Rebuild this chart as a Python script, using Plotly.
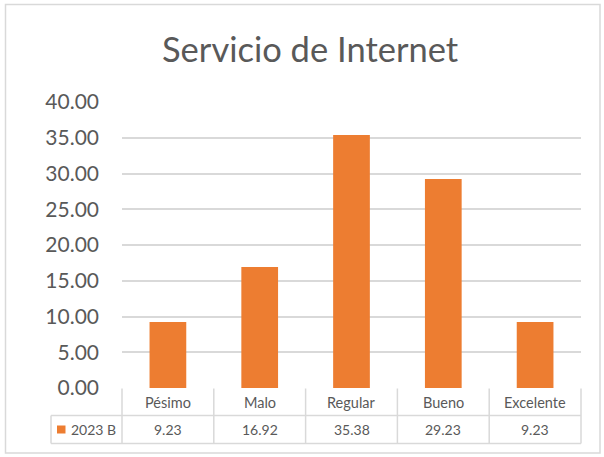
import plotly.graph_objects as go

categories = ["Pésimo", "Malo", "Regular", "Bueno", "Excelente"]
values = [9.23, 16.92, 35.38, 29.23, 9.23]
series_name = "2023 B"
title_text = "Servicio de Internet"
y_ticks = [0, 5, 10, 15, 20, 25, 30, 35, 40]

W, H = 604, 457
L, R, T, B = 122, 581, 102, 388
FONT = "Lato"
TXT = "#595959"
LINE = "#d9d9d9"
BAR = "#ED7D31"

def px(x):
    return (x - L) / (R - L)

def py(y):
    return (B - y) / (B - T)

fig = go.Figure()
fig.add_trace(go.Bar(x=categories, y=values, marker_color=BAR, name=series_name,
                     marker_line_width=0, hoverinfo="skip"))

shapes = []
def hline(x0, x1, y):
    shapes.append(dict(type="line", xref="paper", yref="paper", x0=px(x0), x1=px(x1),
                       y0=py(y), y1=py(y), line=dict(color=LINE, width=1.5)))
def vline(x, y0, y1):
    shapes.append(dict(type="line", xref="paper", yref="paper", x0=px(x), x1=px(x),
                       y0=py(y0), y1=py(y1), line=dict(color=LINE, width=1.5)))

# outer border
shapes.append(dict(type="rect", xref="paper", yref="paper", x0=px(5.5), x1=px(600),
                   y0=py(4.5), y1=py(453), line=dict(color=LINE, width=1.5)))

row1, row2, row3 = 388.5, 415.5, 443.5
tleft = 51
n = len(categories)
cw = (R - L) / n
hline(tleft, R, row2)
hline(tleft, R, row3)
for i in range(n + 1):
    vline(L + i * cw, row1, row3)
vline(tleft, row2, row3)

ann = []
ann.append(dict(text=title_text, xref="paper", yref="paper", x=px(310), y=py(48),
                showarrow=False, font=dict(family=FONT, size=34.5, color=TXT),
                xanchor="center", yanchor="middle"))
for i, (c, v) in enumerate(zip(categories, values)):
    cx = L + (i + 0.5) * cw
    ann.append(dict(text=c, xref="paper", yref="paper", x=px(cx), y=py((row1 + row2) / 2),
                    showarrow=False, font=dict(family=FONT, size=14.5, color=TXT),
                    xanchor="center", yanchor="middle"))
    ann.append(dict(text=f"{v:.2f}", xref="paper", yref="paper", x=px(cx), y=py((row2 + row3) / 2),
                    showarrow=False, font=dict(family=FONT, size=14, color=TXT),
                    xanchor="center", yanchor="middle"))
# legend key
shapes.append(dict(type="rect", xref="paper", yref="paper", x0=px(57), x1=px(65.5),
                   y0=py(425.5), y1=py(433.5), fillcolor=BAR, line=dict(width=0)))
ann.append(dict(text=series_name, xref="paper", yref="paper", x=px(69), y=py((row2 + row3) / 2),
                showarrow=False, font=dict(family=FONT, size=14, color=TXT),
                xanchor="left", yanchor="middle"))

fig.update_layout(
    width=W, height=H,
    margin=dict(l=L, r=W - R, t=T, b=H - B, pad=0),
    paper_bgcolor="white", plot_bgcolor="white",
    showlegend=False,
    bargap=0.6,
    shapes=shapes,
    annotations=ann,
    xaxis=dict(showticklabels=False, showgrid=False, zeroline=False, showline=False, ticks=""),
    yaxis=dict(range=[0, 40], tickvals=y_ticks, ticktext=[f"{t:.2f}" for t in y_ticks],
               showgrid=True, gridcolor=LINE, gridwidth=1.5, zeroline=False, showline=False,
               ticks="", ticklabelstandoff=22,
               tickfont=dict(family=FONT, size=21, color=TXT)),
)

fig.write_html("out.html", config={"displayModeBar": False},
               post_script="document.body.style.margin='0';document.body.style.overflow='hidden';")
